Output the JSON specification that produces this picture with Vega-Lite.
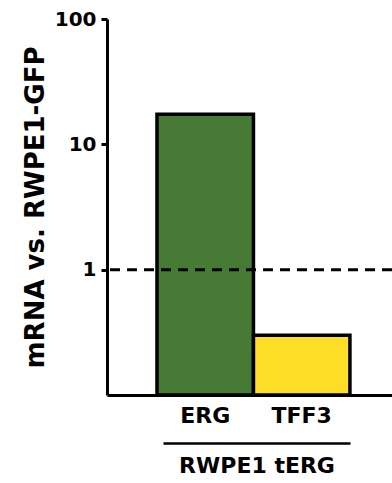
{
  "$schema": "https://vega.github.io/schema/vega-lite/v6.json",
  "autosize": "none",
  "padding": {"left": 107, "top": 19, "right": 0, "bottom": 88},
  "width": 285,
  "height": 376,
  "background": "white",
  "config": {
    "view": {"stroke": null},
    "font": "DejaVu Sans",
    "axis": {"labelFont": "DejaVu Sans", "titleFont": "DejaVu Sans", "labelColor": "black", "titleColor": "black", "domainColor": "black", "tickColor": "black", "grid": false}
  },
  "layer": [
    {
      "data": {"values": [
        {"gene": "ERG", "value": 17.4},
        {"gene": "TFF3", "value": 0.3}
      ]},
      "mark": {"type": "bar", "stroke": "black", "strokeWidth": 3.5},
      "encoding": {
        "x": {
          "field": "gene", "type": "nominal", "sort": ["ERG", "TFF3"],
          "scale": {"paddingInner": 0, "paddingOuter": 0.477, "align": 0.543},
          "axis": {"title": null, "labelAngle": 0, "labelFontSize": 22, "labelFontWeight": "bold", "labelPadding": 10, "ticks": false, "domainWidth": 3}
        },
        "y": {
          "field": "value", "type": "quantitative",
          "scale": {"type": "log", "domain": [0.1, 100], "nice": false},
          "axis": {"title": "mRNA  vs. RWPE1-GFP", "titleFontSize": 26, "titleFontWeight": "bold", "titlePadding": 6, "values": [1, 10, 100], "format": "d", "labelFontSize": 20, "labelFontWeight": "bold", "labelPadding": 5, "tickSize": 6, "tickWidth": 3, "domainWidth": 3}
        },
        "y2": {"datum": 0.1},
        "color": {
          "field": "gene", "type": "nominal",
          "scale": {"domain": ["ERG", "TFF3"], "range": ["#477B35", "#FEDD26"]},
          "legend": null
        }
      }
    },
    {
      "data": {"values": [{"ref": 1}]},
      "mark": {"type": "rule", "color": "black", "strokeWidth": 3, "strokeDash": [10, 7]},
      "encoding": {
        "y": {"field": "ref", "type": "quantitative"}
      }
    },
    {
      "data": {"values": [{"group": "RWPE1 tERG"}]},
      "mark": {"type": "text", "text": ""},
      "encoding": {
        "x": {
          "field": "group", "type": "nominal",
          "scale": {"range": [56, 243], "paddingInner": 0, "paddingOuter": 0},
          "axis": {"title": null, "orient": "bottom", "offset": 48, "labelAngle": 0, "labelFontSize": 22, "labelFontWeight": "bold", "labelPadding": 12, "ticks": false, "domainWidth": 2.5}
        }
      }
    }
  ],
  "resolve": {"scale": {"x": "independent"}, "axis": {"x": "independent"}}
}
